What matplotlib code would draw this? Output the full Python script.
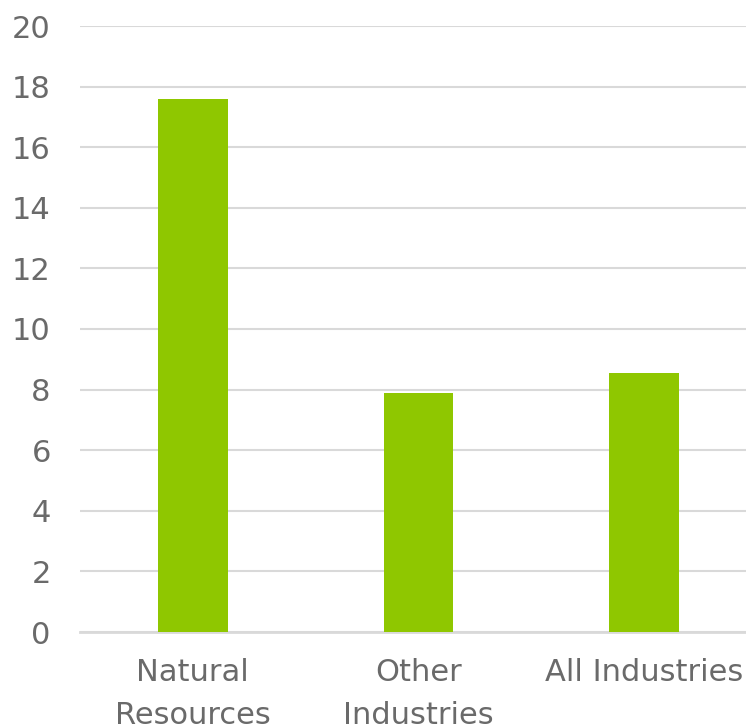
import matplotlib.pyplot as plt
import numpy as np

categories = ["Natural\nResources", "Other\nIndustries", "All Industries"]
values = [17.6, 7.9, 8.55]

fig = plt.figure(figsize=(7.46, 7.26), dpi=100)
# plot area runs a little past the right edge of the picture
ax = fig.add_axes([80/746, 1 - 632/726, 677/746, (632 - 26)/726])

x = np.arange(len(categories))
ax.bar(x, values, width=0.31, color='#8fc700', zorder=3)

ax.set_xlim(-0.5, 2.5)
ax.set_ylim(0, 20)
ax.set_yticks(np.arange(0, 21, 2))
ax.set_xticks(x)
ax.set_xticklabels(categories)

txtcol = '#6a6a6a'
ax.grid(axis='y', color='#d9d9d9', lw=1.5, zorder=0)
ax.tick_params(axis='both', length=0, labelsize=22, colors=txtcol)
ax.tick_params(axis='y', pad=21)
ax.tick_params(axis='x', pad=19)
for lbl in ax.get_xticklabels():
    lbl.set_linespacing(1.6)
for s in ['top', 'right', 'left']:
    ax.spines[s].set_visible(False)
ax.spines['bottom'].set_color('#d9d9d9')
ax.spines['bottom'].set_linewidth(2)

fig.savefig('out.png', dpi=100)
